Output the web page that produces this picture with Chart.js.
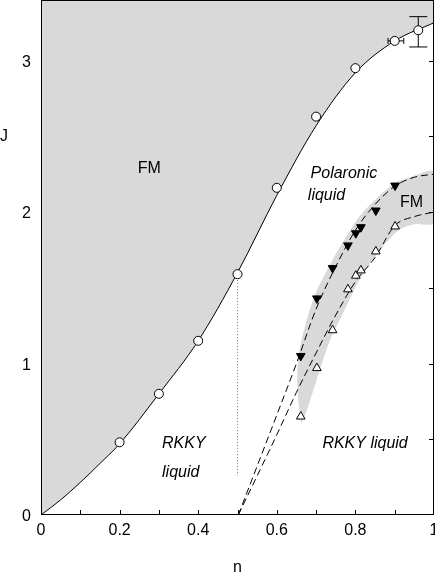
<!DOCTYPE html>
<html>
<head>
<meta charset="utf-8">
<script src="https://cdn.jsdelivr.net/npm/chart.js@4.4.1/dist/chart.umd.min.js"></script>
<style>
  html, body { margin: 0; padding: 0; background: #fff; }
</style>
</head>
<body>
<canvas id="phaseChart" width="435" height="574"></canvas>
<script>
// FM / liquid boundary (solid line)
const boundaryN = [0, 0.05, 0.1, 0.15, 0.2, 0.3, 0.4, 0.5, 0.6, 0.7, 0.8, 0.9, 1.0];
const boundaryJ = [0, 0.10, 0.215, 0.34, 0.47, 0.80, 1.15, 1.60, 2.11, 2.57, 2.92, 3.13, 3.25];
// open circles
const circleN = [0.2, 0.3, 0.4, 0.5, 0.6, 0.7, 0.8, 0.9, 0.96];
const circleJ = [0.48, 0.80, 1.15, 1.59, 2.16, 2.63, 2.95, 3.13, 3.20];
// filled (down) and open (up) triangles
const triN = [0.661, 0.702, 0.742, 0.781, 0.801, 0.814, 0.852, 0.901];
const downJ = [1.05, 1.43, 1.63, 1.78, 1.86, 1.90, 2.01, 2.175];
const upJ = [0.65, 0.97, 1.22, 1.49, 1.58, 1.615, 1.74, 1.905];
// dashed lines
const dashN = [0.502, 0.6, 0.65, 0.7, 0.75, 0.8, 0.85, 0.9, 0.95, 1.0];
const upperDashJ = [0, 0.66, 1.0, 1.36, 1.64, 1.88, 2.05, 2.17, 2.23, 2.25];
const lowerDashJ = [0, 0.53, 0.81, 1.07, 1.32, 1.54, 1.70, 1.91, 1.97, 2.0];
// grey FM band (closed outline)
const bandN = [0.662, 0.652, 0.655, 0.672, 0.70, 0.735, 0.77, 0.81, 0.85, 0.90, 0.95, 1.0,
               1.0, 0.95, 0.91, 0.86, 0.81, 0.77, 0.735, 0.70, 0.675];
const bandJ = [0.60, 0.85, 1.04, 1.25, 1.47, 1.65, 1.81, 1.97, 2.08, 2.19, 2.24, 2.265,
               1.93, 1.92, 1.88, 1.74, 1.55, 1.34, 1.15, 0.88, 0.68];
// dotted line at n = 0.5
const dotN = [0.5, 0.5];
const dotJ = [1.57, 0.26];
// error bars
const vErrN = 0.96, vErrLow = 3.09, vErrHigh = 3.29;
const hErrJ = 3.13, hErrLow = 0.883, hErrHigh = 0.923;
// tick labels
const xTickLabels = [0, 0.2, 0.4, 0.6, 0.8, 1];
const yTickLabels = [0, 1, 2, 3];
// region labels
const labelText = ['FM', 'Polaronic', 'liquid', 'FM', 'RKKY', 'liquid', 'RKKY liquid'];
const labelN = [0.2755, 0.686, 0.679, 0.943, 0.308, 0.308, 0.716];
const labelJ = [2.261, 2.222, 2.077, 2.031, 0.442, 0.254, 0.442];
const labelAlign = ['center', 'left', 'left', 'center', 'left', 'left', 'left'];
const labelItalic = [false, true, true, false, true, true, true];

const FONT = '"Liberation Sans", Arial, Helvetica, sans-serif';
const GREY = '#d9d9d9';
const pts = (xs, ys) => xs.map((v, i) => ({ x: v, y: ys[i] }));

const decor = {
  id: 'decor',
  afterDatasetDraw(chart, args) {
    if (args.index !== 0) return;
    const { ctx, scales: { x, y } } = chart;
    ctx.save();
    ctx.strokeStyle = '#000';
    ctx.lineWidth = 1;
    // vertical error bar
    const vx = x.getPixelForValue(vErrN);
    const y1 = y.getPixelForValue(vErrLow), y2 = y.getPixelForValue(vErrHigh);
    ctx.beginPath();
    ctx.moveTo(vx, y1); ctx.lineTo(vx, y2);
    ctx.moveTo(vx - 9, y1); ctx.lineTo(vx + 9, y1);
    ctx.moveTo(vx - 9, y2); ctx.lineTo(vx + 9, y2);
    ctx.stroke();
    // horizontal error bar
    const hy = y.getPixelForValue(hErrJ);
    const x1 = x.getPixelForValue(hErrLow), x2 = x.getPixelForValue(hErrHigh);
    ctx.beginPath();
    ctx.moveTo(x1, hy); ctx.lineTo(x2, hy);
    ctx.moveTo(x1, hy - 3); ctx.lineTo(x1, hy + 3);
    ctx.moveTo(x2, hy - 3); ctx.lineTo(x2, hy + 3);
    ctx.stroke();
    ctx.restore();
  },
  afterDraw(chart) {
    const { ctx, chartArea: a, scales: { x, y } } = chart;
    ctx.save();
    ctx.strokeStyle = '#000';
    ctx.lineWidth = 1;
    ctx.strokeRect(a.left + 0.5, a.top + 0.5, a.right - a.left - 1, a.bottom - a.top - 1);
    // inward ticks: bottom every 0.1, right every 0.5
    ctx.beginPath();
    x.ticks.forEach(t => {
      if (t.value <= 0 || t.value >= 1) return;
      const px = Math.round(x.getPixelForValue(t.value)) + 0.5;
      ctx.moveTo(px, a.bottom); ctx.lineTo(px, a.bottom - 5);
    });
    y.ticks.forEach(t => {
      const k = t.value * 2;
      if (t.value <= 0 || Math.abs(k - Math.round(k)) > 1e-6) return;
      const py = Math.round(y.getPixelForValue(t.value)) + 0.5;
      ctx.moveTo(a.right, py); ctx.lineTo(a.right - 5, py);
    });
    ctx.stroke();

    ctx.fillStyle = '#000';
    ctx.font = '16px ' + FONT;
    ctx.textBaseline = 'alphabetic';
    ctx.textAlign = 'center';
    xTickLabels.forEach(v => ctx.fillText(String(v), x.getPixelForValue(v), a.bottom + 20));
    ctx.textAlign = 'right';
    yTickLabels.forEach(v => ctx.fillText(String(v), a.left - 10, y.getPixelForValue(v) + 6));

    labelText.forEach((s, i) => {
      ctx.font = (labelItalic[i] ? 'italic ' : '') + '16px ' + FONT;
      ctx.textAlign = labelAlign[i];
      ctx.fillText(s, x.getPixelForValue(labelN[i]), y.getPixelForValue(labelJ[i]));
    });
    // axis titles
    ctx.font = '16px ' + FONT;
    ctx.textAlign = 'left';
    ctx.fillText('J', 0, y.getPixelForValue(2.5) + 5);
    ctx.textAlign = 'center';
    ctx.fillText('n', x.getPixelForValue(0.5), a.bottom + 57);
    ctx.restore();
  }
};

new Chart(document.getElementById('phaseChart'), {
  type: 'line',
  data: {
    datasets: [
      {
        data: pts(boundaryN, boundaryJ),
        borderColor: '#000', borderWidth: 1, pointRadius: 0,
        fill: 'end', backgroundColor: GREY,
        cubicInterpolationMode: 'monotone', order: 9
      },
      {
        data: pts(bandN, bandJ),
        borderColor: 'rgba(0,0,0,0)', borderWidth: 0, pointRadius: 0,
        fill: 'shape', backgroundColor: GREY, tension: 0.3, order: 8
      },
      {
        data: pts(dashN, upperDashJ),
        borderColor: '#000', borderWidth: 1, borderDash: [7, 4], pointRadius: 0,
        fill: false, cubicInterpolationMode: 'monotone', order: 7
      },
      {
        data: pts(dashN, lowerDashJ),
        borderColor: '#000', borderWidth: 1, borderDash: [7, 4], pointRadius: 0,
        fill: false, cubicInterpolationMode: 'monotone', order: 6
      },
      {
        data: pts(dotN, dotJ),
        borderColor: '#777', borderWidth: 1, borderDash: [1, 2], pointRadius: 0,
        fill: false, order: 5
      },
      {
        data: pts(circleN, circleJ),
        showLine: false, pointStyle: 'circle', pointRadius: 4.5,
        pointBackgroundColor: '#fff', pointBorderColor: '#000', pointBorderWidth: 1, order: 3
      },
      {
        data: pts(triN, downJ),
        showLine: false, pointStyle: 'triangle', pointRotation: 180, pointRadius: 5,
        pointBackgroundColor: '#000', pointBorderColor: '#000', pointBorderWidth: 1, order: 2
      },
      {
        data: pts(triN, upJ),
        showLine: false, pointStyle: 'triangle', pointRadius: 5,
        pointBackgroundColor: '#fff', pointBorderColor: '#000', pointBorderWidth: 1, order: 1
      }
    ]
  },
  options: {
    responsive: false,
    animation: false,
    layout: { autoPadding: false, padding: { top: 0, right: 1, left: 0, bottom: 0 } },
    plugins: { legend: { display: false }, tooltip: { enabled: false } },
    scales: {
      x: {
        type: 'linear', min: 0, max: 1,
        grid: { display: false, drawTicks: false },
        border: { display: false },
        ticks: { display: false, stepSize: 0.1, autoSkip: false },
        afterFit: s => { s.height = 59; s.paddingLeft = 0; s.paddingRight = 0; }
      },
      y: {
        type: 'linear', min: 0, max: 3.4,
        grid: { display: false, drawTicks: false },
        border: { display: false },
        ticks: { display: false, stepSize: 0.5, autoSkip: false },
        afterFit: s => { s.width = 41; s.paddingTop = 0; s.paddingBottom = 0; }
      }
    }
  },
  plugins: [decor]
});
</script>
</body>
</html>
